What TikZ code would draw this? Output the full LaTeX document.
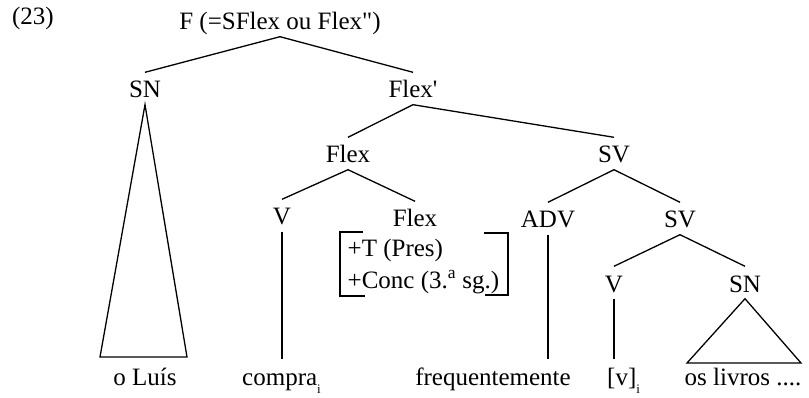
\documentclass[tikz,border=0pt]{standalone}
\usepackage{fontspec}
\setmainfont{Liberation Serif}
\begin{document}
\begin{tikzpicture}[x=1pt,y=-1pt,
  lbl/.style={anchor=base,inner sep=1.5pt,text height=24pt,text depth=5pt,font=\fontsize{25}{30}\selectfont},
  leaf/.style={inner sep=1.5pt,text height=24pt,text depth=5pt,font=\fontsize{25}{30}\selectfont},
  branch/.style={line width=1.3pt},
  bar/.style={line width=1.1pt}]
\useasboundingbox (0,0) rectangle (809,398);
% labels
\node[leaf,anchor=base] (ex) at (33,25) {(23)};
\node[lbl] (F) at (280,30) {F (=SFlex ou Flex\textquotedbl)};
\node[lbl] (SN) at (145,98) {SN};
\node[lbl] (Flexp) at (413,98) {Flex\textquotesingle};
\node[lbl] (Flex) at (348,163) {Flex};
\node[lbl] (SV) at (614,163) {SV};
\node[lbl] (V) at (282,225) {V};
\node[lbl] (Flexb) at (415,227) {Flex};
\node[lbl] (ADV) at (548,228) {ADV};
\node[lbl] (SVb) at (680,228) {SV};
\node[lbl] (Vb) at (614,292) {V};
\node[lbl] (SNb) at (745,292) {SN};
% feature bundle
\node[leaf,anchor=base west] (feat1) at (346,257) {+T (Pres)};
\node[leaf,anchor=base west] (feat2) at (346,288) {+Conc (3.\textsuperscript{a} sg.)};
% leaves
\node[lbl] (luis) at (145,385) {o Luís};
\node[leaf,anchor=base west] (compra) at (240.5,385) {compra\rlap{\raisebox{-0.35em}{\fontsize{13}{13}\selectfont i}}};
\node[lbl] (freq) at (493,385) {frequentemente};
\node[leaf,anchor=base west] (vtrace) at (605.5,385) {[v]\rlap{\raisebox{-0.35em}{\fontsize{13}{13}\selectfont i}}};
\node[lbl] (livros) at (743,385) {os livros ....};
% branches
\draw[branch] (SN.north) -- (F.south) -- (Flexp.north);
\draw[branch] (Flex.north) -- (Flexp.south) -- (SV.north);
\draw[branch] (V.north) -- (Flex.south) -- (Flexb.north);
\draw[branch] (ADV.north) -- (SV.south) -- (SVb.north);
\draw[branch] (Vb.north) -- (SVb.south) -- (SNb.north);
% unary lines
\draw[bar] (V.south) -- (V.south |- compra.north);
\draw[bar] (ADV.south) -- (ADV.south |- freq.north);
\draw[bar] (Vb.south) -- (Vb.south |- vtrace.north);
% triangles
\coordinate (t1l) at (100,357);
\coordinate (t1r) at (187,357);
\draw[branch] (SN.south) -- (t1l) -- (t1r) -- cycle;
\coordinate (t2l) at (687,363);
\coordinate (t2r) at (801,363);
\draw[branch] (SNb.south) -- (t2l) -- (t2r) -- cycle;
% brackets
\coordinate (bl1) at (363,232);
\coordinate (bl2) at (340,232);
\coordinate (bl3) at (340,296);
\coordinate (bl4) at (365,296);
\draw[bar] (bl1) -- (bl2) -- (bl3) -- (bl4);
\coordinate (br1) at (484,233);
\coordinate (br2) at (508,233);
\coordinate (br3) at (508,295);
\coordinate (br4) at (485,295);
\draw[bar] (br1) -- (br2) -- (br3) -- (br4);
\end{tikzpicture}
\end{document}
